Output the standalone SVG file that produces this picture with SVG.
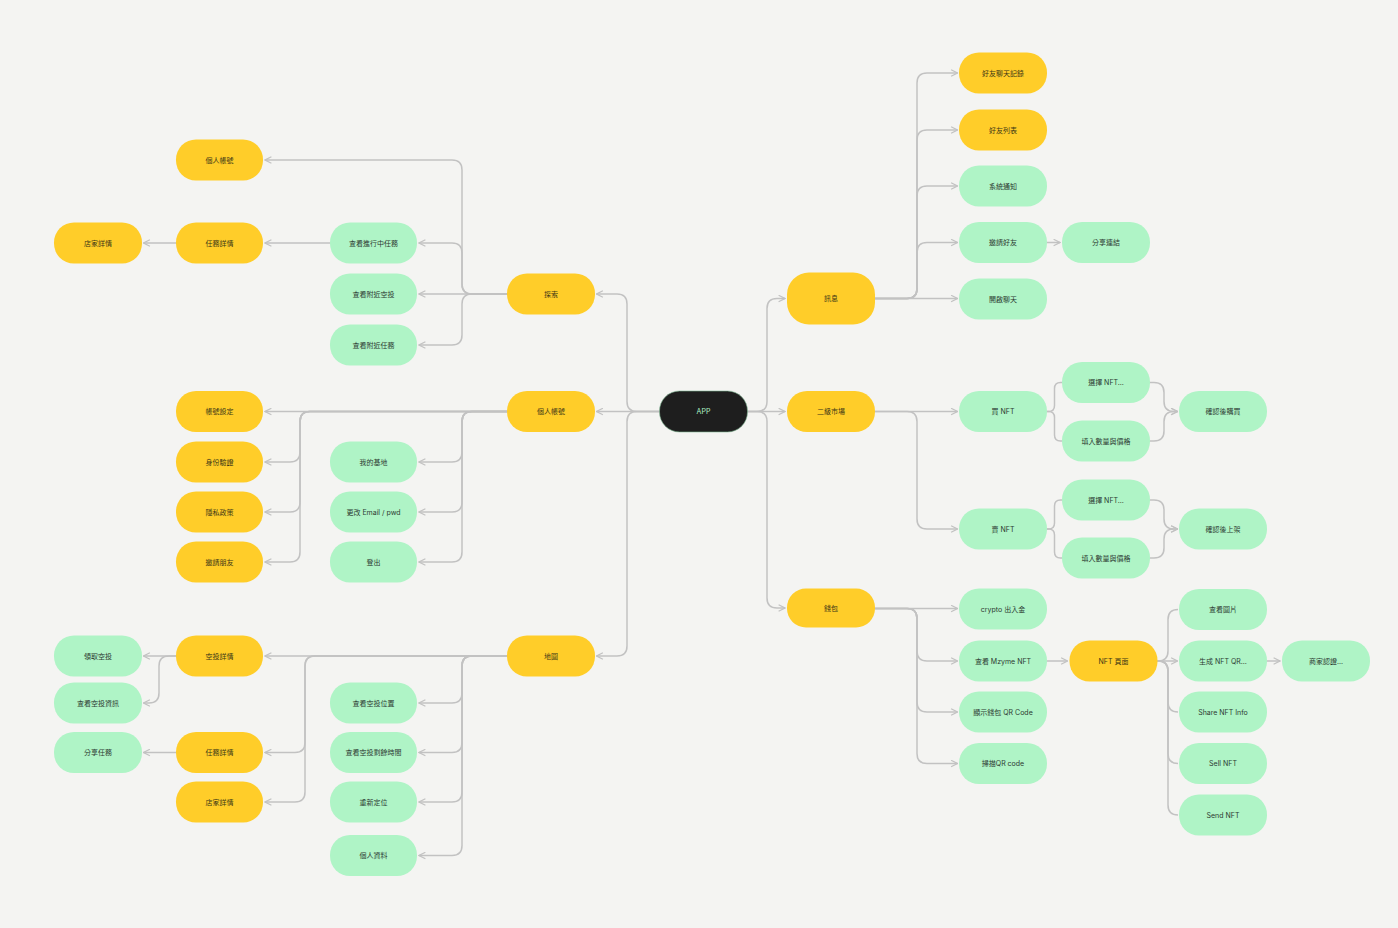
<svg xmlns="http://www.w3.org/2000/svg" width="1398" height="928" viewBox="0 0 1398 928">
<defs>
<style>
.y{fill:#ffcd29}
.g{fill:#aff4c6}
.d{fill:#1e1e1e;stroke:#7fb894;stroke-width:0.6}
text{font-family:Inter,"Noto Sans CJK TC","Noto Sans",sans-serif;font-size:7px;text-anchor:middle;dominant-baseline:central}
.ty{fill:#3d3716}
.tg{fill:#2d3a32}
.td{fill:#aff4c6}
.c path{fill:none;stroke:#c2c2c2;stroke-width:1.5}
.a{marker-end:url(#arr)}
</style>
<marker id="arr" viewBox="0 0 10 10" refX="9" refY="5" markerWidth="8" markerHeight="8" markerUnits="userSpaceOnUse" orient="auto">
<path d="M1,1 L9,5 L1,9" fill="none" stroke="#c2c2c2" stroke-width="1.6"/>
</marker>
</defs>
<rect width="1398" height="928" fill="#f4f4f2"/>

<g id="connectors" class="c">
<!-- APP left -->
<path class="a" d="M659.5,411.5 H637 Q627,411.5 627,401.5 V304 Q627,294 617,294 H596.5"/>
<path class="a" d="M659.5,411.5 H596.5"/>
<path class="a" d="M659.5,411.5 H637 Q627,411.5 627,421.5 V646 Q627,656 617,656 H596.5"/>
<!-- 探索 -->
<path class="a" d="M507,294 H472 Q462,294 462,284 V170 Q462,160 452,160 H265"/>
<path class="a" d="M507,294 H472 Q462,294 462,284 V253 Q462,243 452,243 H419"/>
<path class="a" d="M507,294 H419"/>
<path class="a" d="M507,294 H472 Q462,294 462,304 V335 Q462,345 452,345 H419"/>
<path class="a" d="M330,243 H265"/>
<path class="a" d="M176,243 H143.5"/>
<!-- 個人帳號 -->
<path class="a" d="M507,411.5 H265"/>
<path class="a" d="M507,411.5 H310 Q300,411.5 300,421.5 V452 Q300,462 290,462 H265"/>
<path class="a" d="M507,411.5 H310 Q300,411.5 300,421.5 V502 Q300,512 290,512 H265"/>
<path class="a" d="M507,411.5 H310 Q300,411.5 300,421.5 V552 Q300,562 290,562 H265"/>
<path class="a" d="M507,411.5 H472 Q462,411.5 462,421.5 V452 Q462,462 452,462 H419"/>
<path class="a" d="M507,411.5 H472 Q462,411.5 462,421.5 V502 Q462,512 452,512 H419"/>
<path class="a" d="M507,411.5 H472 Q462,411.5 462,421.5 V552 Q462,562 452,562 H419"/>
<!-- 地圖 -->
<path class="a" d="M507,656 H265"/>
<path class="a" d="M507,656 H315 Q305,656 305,666 V742.5 Q305,752.5 295,752.5 H265"/>
<path class="a" d="M507,656 H315 Q305,656 305,666 V792 Q305,802 295,802 H265"/>
<path class="a" d="M507,656 H472 Q462,656 462,666 V693 Q462,703 452,703 H419"/>
<path class="a" d="M507,656 H472 Q462,656 462,666 V742.5 Q462,752.5 452,752.5 H419"/>
<path class="a" d="M507,656 H472 Q462,656 462,666 V792 Q462,802 452,802 H419"/>
<path class="a" d="M507,656 H472 Q462,656 462,666 V845.5 Q462,855.5 452,855.5 H419"/>
<path class="a" d="M176,656 H143.5"/>
<path class="a" d="M176,656 H169 Q159,656 159,666 V693 Q159,703 149,703 H143.5"/>
<path class="a" d="M176,752.5 H143.5"/>
<!-- APP right -->
<path class="a" d="M747.5,411.5 H757 Q767,411.5 767,401.5 V308.5 Q767,298.5 777,298.5 H785"/>
<path class="a" d="M747.5,411.5 H785"/>
<path class="a" d="M747.5,411.5 H757 Q767,411.5 767,421.5 V598 Q767,608 777,608 H785"/>
<!-- 訊息 -->
<path class="a" d="M875,298.5 H907 Q917,298.5 917,288.5 V83 Q917,73 927,73 H957.5"/>
<path class="a" d="M875,298.5 H907 Q917,298.5 917,288.5 V140 Q917,130 927,130 H957.5"/>
<path class="a" d="M875,298.5 H907 Q917,298.5 917,288.5 V196 Q917,186 927,186 H957.5"/>
<path class="a" d="M875,298.5 H907 Q917,298.5 917,288.5 V252.5 Q917,242.5 927,242.5 H957.5"/>
<path class="a" d="M875,298.5 H957.5"/>
<path class="a" d="M1047,242.5 H1060"/>
<!-- 二級市場 -->
<path class="a" d="M875,411.5 H957.5"/>
<path class="a" d="M875,411.5 H907 Q917,411.5 917,421.5 V519 Q917,529 927,529 H957.5"/>
<path d="M1047,411.5 H1048.5 Q1054.5,411.5 1054.5,405.5 V388.5 Q1054.5,382.5 1060.5,382.5 H1062"/>
<path d="M1047,411.5 H1048.5 Q1054.5,411.5 1054.5,417.5 V435 Q1054.5,441 1060.5,441 H1062"/>
<path class="a" d="M1149.5,382.5 H1154 Q1164,382.5 1164,392.5 V401.5 Q1164,411.5 1174,411.5 H1177.5"/>
<path class="a" d="M1149.5,441 H1154 Q1164,441 1164,431 V421.5 Q1164,411.5 1174,411.5 H1177.5"/>
<path d="M1047,529 H1048.5 Q1054.5,529 1054.5,523 V506 Q1054.5,500 1060.5,500 H1062"/>
<path d="M1047,529 H1048.5 Q1054.5,529 1054.5,535 V552 Q1054.5,558 1060.5,558 H1062"/>
<path class="a" d="M1149.5,500 H1154 Q1164,500 1164,510 V519 Q1164,529 1174,529 H1177.5"/>
<path class="a" d="M1149.5,558 H1154 Q1164,558 1164,548 V539 Q1164,529 1174,529 H1177.5"/>
<!-- 錢包 -->
<path class="a" d="M875,608.5 H957.5"/>
<path class="a" d="M875,608.5 H907 Q917,608.5 917,618.5 V651 Q917,661 927,661 H957.5"/>
<path class="a" d="M875,608.5 H907 Q917,608.5 917,618.5 V702 Q917,712 927,712 H957.5"/>
<path class="a" d="M875,608.5 H907 Q917,608.5 917,618.5 V753.5 Q917,763.5 927,763.5 H957.5"/>
<path class="a" d="M1047,661 H1067.5"/>
<!-- NFT 頁面 -->
<path d="M1157,661 H1158 Q1168,661 1168,651 V619.5 Q1168,609.5 1178,609.5"/>
<path class="a" d="M1157,661 H1177.5"/>
<path d="M1157,661 H1158 Q1168,661 1168,671 V702 Q1168,712 1178,712"/>
<path d="M1157,661 H1158 Q1168,661 1168,671 V753.5 Q1168,763.5 1178,763.5"/>
<path d="M1157,661 H1158 Q1168,661 1168,671 V805 Q1168,815 1178,815"/>
<path class="a" d="M1267,661 H1280"/>
</g>

<g id="n-app"><rect class="d" x="659.5" y="391" width="88" height="41" rx="20"/><text class="td" x="703.5" y="411.5">APP</text></g>

<g id="n-tansuo"><rect class="y" x="507" y="273.5" width="88" height="41" rx="20"/><text class="ty" x="551" y="294">探索</text></g>
<g id="n-geren"><rect class="y" x="507" y="391" width="88" height="41" rx="20"/><text class="ty" x="551" y="411.5">個人帳號</text></g>
<g id="n-ditu"><rect class="y" x="507" y="635.5" width="88" height="41" rx="20"/><text class="ty" x="551" y="656">地圖</text></g>

<g id="n-geren-top"><rect class="y" x="176" y="139.5" width="87" height="41" rx="20"/><text class="ty" x="219.5" y="160">個人帳號</text></g>
<g id="n-dianjia-top"><rect class="y" x="54" y="222.5" width="88" height="41" rx="20"/><text class="ty" x="98" y="243">店家詳情</text></g>
<g id="n-renwu-top"><rect class="y" x="176" y="222.5" width="87" height="41" rx="20"/><text class="ty" x="219.5" y="243">任務詳情</text></g>
<g id="n-jinxing"><rect class="g" x="330" y="222.5" width="87" height="41" rx="20"/><text class="tg" x="373.5" y="243">查看進行中任務</text></g>
<g id="n-fujin-kt"><rect class="g" x="330" y="273.5" width="87" height="41" rx="20"/><text class="tg" x="373.5" y="294">查看附近空投</text></g>
<g id="n-fujin-rw"><rect class="g" x="330" y="324.5" width="87" height="41" rx="20"/><text class="tg" x="373.5" y="345">查看附近任務</text></g>

<g id="n-zhanghao"><rect class="y" x="176" y="391" width="87" height="41" rx="20"/><text class="ty" x="219.5" y="411.5">帳號設定</text></g>
<g id="n-shenfen"><rect class="y" x="176" y="441.5" width="87" height="41" rx="20"/><text class="ty" x="219.5" y="462">身份驗證</text></g>
<g id="n-yinsi"><rect class="y" x="176" y="491.5" width="87" height="41" rx="20"/><text class="ty" x="219.5" y="512">隱私政策</text></g>
<g id="n-yaoqing-py"><rect class="y" x="176" y="541.5" width="87" height="41" rx="20"/><text class="ty" x="219.5" y="562">邀請朋友</text></g>
<g id="n-jidi"><rect class="g" x="330" y="441.5" width="87" height="41" rx="20"/><text class="tg" x="373.5" y="462">我的基地</text></g>
<g id="n-email"><rect class="g" x="330" y="491.5" width="87" height="41" rx="20"/><text class="tg" x="373.5" y="512">更改 Email / pwd</text></g>
<g id="n-dengchu"><rect class="g" x="330" y="541.5" width="87" height="41" rx="20"/><text class="tg" x="373.5" y="562">登出</text></g>

<g id="n-lingqu"><rect class="g" x="54" y="635.5" width="88" height="41" rx="20"/><text class="tg" x="98" y="656">領取空投</text></g>
<g id="n-kt-zixun"><rect class="g" x="54" y="682.5" width="88" height="41" rx="20"/><text class="tg" x="98" y="703">查看空投資訊</text></g>
<g id="n-fenxiang-rw"><rect class="g" x="54" y="732" width="88" height="41" rx="20"/><text class="tg" x="98" y="752.5">分享任務</text></g>
<g id="n-kt-xq"><rect class="y" x="176" y="635.5" width="87" height="41" rx="20"/><text class="ty" x="219.5" y="656">空投詳情</text></g>
<g id="n-renwu-bot"><rect class="y" x="176" y="732" width="87" height="41" rx="20"/><text class="ty" x="219.5" y="752.5">任務詳情</text></g>
<g id="n-dianjia-bot"><rect class="y" x="176" y="781.5" width="87" height="41" rx="20"/><text class="ty" x="219.5" y="802">店家詳情</text></g>
<g id="n-kt-weizhi"><rect class="g" x="330" y="682.5" width="87" height="41" rx="20"/><text class="tg" x="373.5" y="703">查看空投位置</text></g>
<g id="n-kt-shijian"><rect class="g" x="330" y="732" width="87" height="41" rx="20"/><text class="tg" x="373.5" y="752.5">查看空投剩餘時間</text></g>
<g id="n-dingwei"><rect class="g" x="330" y="781.5" width="87" height="41" rx="20"/><text class="tg" x="373.5" y="802">重新定位</text></g>
<g id="n-ziliao"><rect class="g" x="330" y="835" width="87" height="41" rx="20"/><text class="tg" x="373.5" y="855.5">個人資料</text></g>

<g id="n-xunxi"><rect class="y" x="787" y="272.5" width="88" height="52" rx="22"/><text class="ty" x="831" y="298.5">訊息</text></g>
<g id="n-erji"><rect class="y" x="787" y="391" width="88" height="41" rx="20"/><text class="ty" x="831" y="411.5">二級市場</text></g>
<g id="n-qianbao"><rect class="y" x="787" y="588.5" width="88" height="39" rx="19"/><text class="ty" x="831" y="608">錢包</text></g>

<g id="n-liaotian-jl"><rect class="y" x="959" y="52.5" width="88" height="41" rx="20"/><text class="ty" x="1003" y="73">好友聊天記錄</text></g>
<g id="n-haoyou-lb"><rect class="y" x="959" y="109.5" width="88" height="41" rx="20"/><text class="ty" x="1003" y="130">好友列表</text></g>
<g id="n-tongzhi"><rect class="g" x="959" y="165.5" width="88" height="41" rx="20"/><text class="tg" x="1003" y="186">系統通知</text></g>
<g id="n-yaoqing-hy"><rect class="g" x="959" y="222" width="88" height="41" rx="20"/><text class="tg" x="1003" y="242.5">邀請好友</text></g>
<g id="n-lianjie"><rect class="g" x="1062" y="222" width="88" height="41" rx="20"/><text class="tg" x="1106" y="242.5">分享連結</text></g>
<g id="n-kaiqi"><rect class="g" x="959" y="278.5" width="88" height="41" rx="20"/><text class="tg" x="1003" y="299">開啟聊天</text></g>

<g id="n-mai"><rect class="g" x="959" y="391" width="88" height="41" rx="20"/><text class="tg" x="1003" y="411.5">買 NFT</text></g>
<g id="n-xuanze1"><rect class="g" x="1062" y="362" width="88" height="41" rx="20"/><text class="tg" x="1106" y="382.5">選擇 NFT...</text></g>
<g id="n-tianru1"><rect class="g" x="1062" y="420.5" width="88" height="41" rx="20"/><text class="tg" x="1106" y="441">填入數量與價格</text></g>
<g id="n-goumai"><rect class="g" x="1179" y="391" width="88" height="41" rx="20"/><text class="tg" x="1223" y="411.5">確認後購買</text></g>
<g id="n-maic"><rect class="g" x="959" y="508.5" width="88" height="41" rx="20"/><text class="tg" x="1003" y="529">賣 NFT</text></g>
<g id="n-xuanze2"><rect class="g" x="1062" y="479.5" width="88" height="41" rx="20"/><text class="tg" x="1106" y="500">選擇 NFT...</text></g>
<g id="n-tianru2"><rect class="g" x="1062" y="537.5" width="88" height="41" rx="20"/><text class="tg" x="1106" y="558">填入數量與價格</text></g>
<g id="n-shangjia"><rect class="g" x="1179" y="508.5" width="88" height="41" rx="20"/><text class="tg" x="1223" y="529">確認後上架</text></g>

<g id="n-crypto"><rect class="g" x="959" y="588.5" width="88" height="41" rx="20"/><text class="tg" x="1003" y="609">crypto 出入金</text></g>
<g id="n-mzyme"><rect class="g" x="959" y="640.5" width="88" height="41" rx="20"/><text class="tg" x="1003" y="661">查看 Mzyme NFT</text></g>
<g id="n-xianshi"><rect class="g" x="959" y="691.5" width="88" height="41" rx="20"/><text class="tg" x="1003" y="712">顯示錢包 QR Code</text></g>
<g id="n-saomiao"><rect class="g" x="959" y="743" width="88" height="41" rx="20"/><text class="tg" x="1003" y="763.5">掃描QR code</text></g>
<g id="n-nft-page"><rect class="y" x="1069.5" y="640.5" width="88" height="41" rx="20"/><text class="ty" x="1113.5" y="661">NFT 頁面</text></g>
<g id="n-tupian"><rect class="g" x="1179" y="589" width="88" height="41" rx="20"/><text class="tg" x="1223" y="609.5">查看圖片</text></g>
<g id="n-shengcheng"><rect class="g" x="1179" y="640.5" width="88" height="41" rx="20"/><text class="tg" x="1223" y="661">生成 NFT QR...</text></g>
<g id="n-share"><rect class="g" x="1179" y="691.5" width="88" height="41" rx="20"/><text class="tg" x="1223" y="712">Share NFT Info</text></g>
<g id="n-sell"><rect class="g" x="1179" y="743" width="88" height="41" rx="20"/><text class="tg" x="1223" y="763.5">Sell NFT</text></g>
<g id="n-send"><rect class="g" x="1179" y="794.5" width="88" height="41" rx="20"/><text class="tg" x="1223" y="815">Send NFT</text></g>
<g id="n-renzheng"><rect class="g" x="1282" y="640.5" width="88" height="41" rx="20"/><text class="tg" x="1326" y="661">商家認證...</text></g>
</svg>
